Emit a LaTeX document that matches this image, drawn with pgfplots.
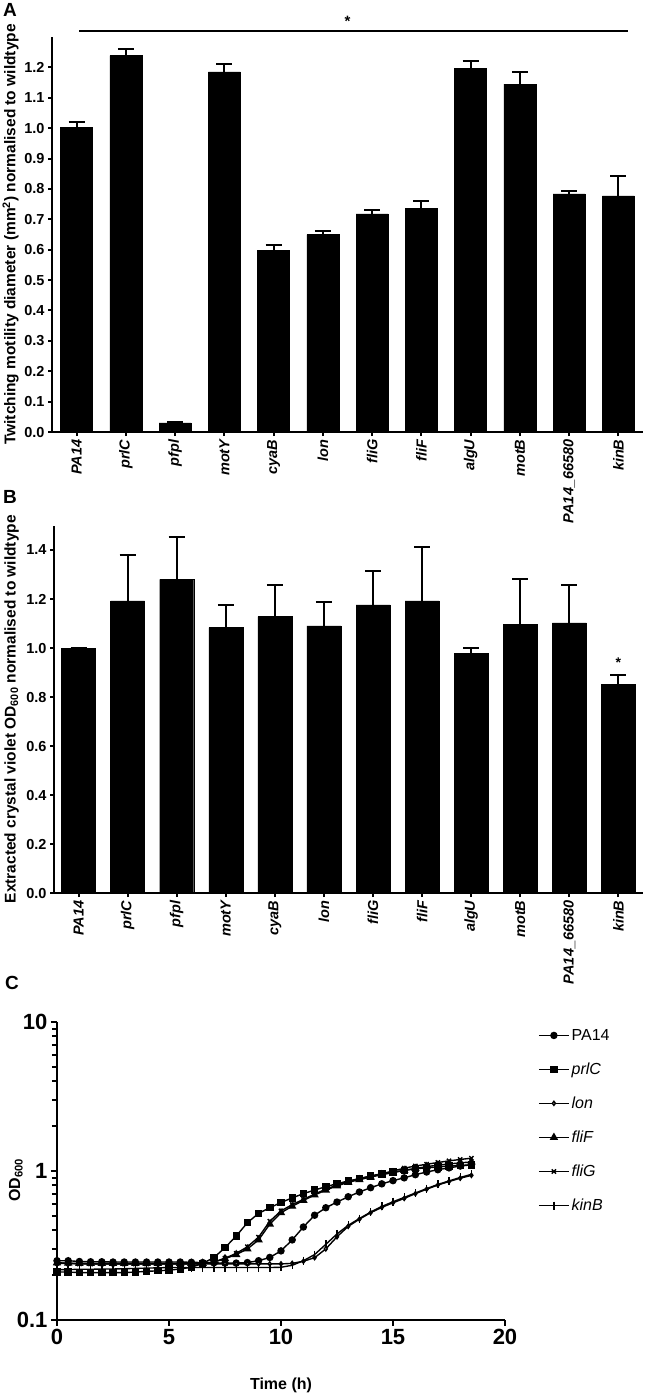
\documentclass[border=0pt]{standalone}
\usepackage{fontspec}
\setmainfont{Liberation Sans}
\usepackage{pgfplots}
\usepackage{pgfplotstable}
\pgfplotsset{compat=1.18}

\pgfplotstableread{
x y e
0 1.003 0.016
1 1.239 0.021
2 0.030 0.003
3 1.185 0.025
4 0.597 0.017
5 0.650 0.013
6 0.718 0.013
7 0.735 0.026
8 1.196 0.024
9 1.145 0.039
10 0.784 0.008
11 0.777 0.067
}\dataA

\pgfplotstableread{
x y e
0 1.000 0.000
1 1.192 0.188
2 1.280 0.174
3 1.083 0.093
4 1.128 0.129
5 1.090 0.099
6 1.176 0.138
7 1.192 0.219
8 0.978 0.024
9 1.097 0.183
10 1.103 0.154
11 0.853 0.037
}\dataB

\pgfplotstableread{
t pa prlc lon flif flig kinb
0 0.250 0.210 0.242 0.242 0.240 0.218
0.5 0.250 0.210 0.240 0.241 0.239 0.218
1 0.247 0.208 0.239 0.240 0.238 0.219
1.5 0.246 0.208 0.238 0.240 0.238 0.219
2 0.246 0.208 0.238 0.240 0.238 0.220
2.5 0.245 0.208 0.238 0.240 0.238 0.220
3 0.245 0.208 0.238 0.240 0.238 0.221
3.5 0.245 0.210 0.238 0.240 0.238 0.222
4 0.245 0.212 0.238 0.240 0.238 0.223
4.5 0.245 0.214 0.238 0.240 0.238 0.224
5 0.245 0.216 0.238 0.240 0.238 0.225
5.5 0.245 0.220 0.238 0.240 0.238 0.225
6 0.244 0.226 0.238 0.240 0.238 0.225
6.5 0.243 0.240 0.238 0.240 0.238 0.225
7 0.242 0.262 0.238 0.245 0.245 0.225
7.5 0.241 0.306 0.238 0.258 0.260 0.225
8 0.241 0.366 0.238 0.275 0.280 0.225
8.5 0.243 0.450 0.238 0.300 0.310 0.225
9 0.250 0.520 0.238 0.345 0.360 0.225
9.5 0.263 0.567 0.238 0.440 0.460 0.225
10 0.291 0.615 0.238 0.525 0.540 0.226
10.5 0.345 0.660 0.240 0.580 0.595 0.233
11 0.421 0.705 0.248 0.635 0.645 0.250
11.5 0.505 0.745 0.262 0.690 0.700 0.275
12 0.567 0.785 0.300 0.745 0.755 0.322
12.5 0.619 0.822 0.362 0.795 0.805 0.378
13 0.672 0.857 0.425 0.840 0.850 0.432
13.5 0.723 0.888 0.475 0.875 0.890 0.480
14 0.773 0.925 0.525 0.910 0.925 0.530
14.5 0.820 0.955 0.570 0.945 0.960 0.578
15 0.862 0.985 0.612 0.975 1.000 0.622
15.5 0.900 1.010 0.655 1.010 1.045 0.665
16 0.945 1.035 0.705 1.040 1.080 0.712
16.5 0.985 1.050 0.755 1.070 1.110 0.762
17 1.020 1.065 0.805 1.095 1.140 0.812
17.5 1.050 1.080 0.850 1.115 1.170 0.858
18 1.080 1.090 0.895 1.135 1.195 0.905
18.5 1.100 1.100 0.935 1.150 1.220 0.950
}\dataC

\pgfplotsset{
  barax/.style={
    scale only axis, axis lines=left, axis line style={-, line width=2pt},
    xmin=-0.5, xmax=11.5, ymin=0, clip=false,
    xtick={0,...,11},
    xticklabels={PA14,prlC,pfpl,motY,cyaB,lon,fliG,fliF,algU,motB,PA14\_66580,kinB},
    x tick label style={rotate=90, anchor=east, font=\bfseries\itshape\fontsize{14.5}{16}\selectfont},
    y tick label style={font=\bfseries\fontsize{14.5}{16}\selectfont},
    /pgf/number format/assume math mode=true,
    yticklabel style={/pgf/number format/.cd, fixed, fixed zerofill, precision=1},
    tick align=outside, major tick length=4pt,
    tick style={line width=2pt, black},
    ylabel style={font=\bfseries\fontsize{15.5}{17}\selectfont, anchor=center},
  },
  barplot/.style={ybar, fill=black, draw=black,
    error bars/.cd, y dir=plus, y explicit,
    error bar style={line width=2pt, black},
    error mark options={rotate=90, mark size=8pt, line width=2pt, black},
    /pgfplots/.cd},
}

\begin{document}
\begin{tikzpicture}
\useasboundingbox (0,0) rectangle (645pt,-1395pt);

\node[font=\bfseries\fontsize{19}{19}\selectfont] at (10pt,-10pt) {A};
\node[font=\bfseries\fontsize{19}{19}\selectfont] at (10pt,-497pt) {B};
\node[font=\bfseries\fontsize{19}{19}\selectfont] at (12pt,-983pt) {C};

% Panel A
\begin{axis}[barax, at={(52pt,-432pt)}, anchor=south west,
  width=591pt, height=395pt, ymax=1.3,
  ytick={0,0.1,...,1.21},
  ylabel={Twitching motility diameter (mm\textsuperscript{2}) normalised to wildtype},
  ylabel style={at={(axis description cs:-0.07,0.5)}},
]
\addplot[bar width=32pt, barplot] table[x=x, y=y, y error=e] {\dataA};
\draw[line width=1.5pt] (axis cs:0.05,1.32) -- (axis cs:11.2,1.32);
\node[font=\bfseries\fontsize{15}{15}\selectfont] at (axis cs:5.5,1.352) {*};
\end{axis}

% Panel B
\begin{axis}[barax, at={(54pt,-893pt)}, anchor=south west,
  width=589pt, height=367.5pt, ymax=1.5,
  ytick={0,0.2,...,1.41},
  ylabel={Extracted crystal violet OD\textsubscript{600} normalised to wildtype},
  ylabel style={at={(axis description cs:-0.072,0.5)}},
]
\addplot[bar width=34pt, barplot] table[x=x, y=y, y error=e] {\dataB};
\node[font=\bfseries\fontsize{14}{14}\selectfont] at (axis cs:11,0.94) {*};
\end{axis}

% Panel C
\begin{axis}[at={(57pt,-1320pt)}, anchor=south west, scale only axis,
  width=448pt, height=298pt,
  xmin=0, xmax=20, ymode=log, ymin=0.1, ymax=10,
  axis lines=left, axis line style={-, line width=2.4pt},
  xtick={0,5,10,15,20}, ytick={0.1,1,10}, yticklabels={0.1,1,10},
  /pgf/number format/assume math mode=true,
  tick label style={font=\bfseries\fontsize{22}{24}\selectfont},
  tick align=outside, major tick length=6pt, minor tick length=5pt,
  tick style={line width=2pt, black},
  xlabel={Time (h)}, ylabel={OD\textsubscript{600}},
  xlabel style={font=\bfseries\fontsize{16}{18}\selectfont, at={(axis description cs:0.5,-0.218)}, anchor=center},
  ylabel style={font=\bfseries\fontsize{16}{18}\selectfont, at={(axis description cs:-0.092,0.47)}, anchor=center},
  legend style={draw=none, fill=none, at={(axis description cs:1.067,0.99)}, anchor=north west,
    font=\fontsize{16}{18}\selectfont, row sep=17pt},
  legend cell align=left,
  legend image code/.code={\draw[mark repeat=2,mark phase=2,#1] plot coordinates {(0pt,0pt) (15pt,0pt) (30pt,0pt)};},
  every axis plot/.append style={black, line width=1.4pt, mark options={solid}},
]
\addplot[mark=*, mark size=3pt] table[x=t, y=pa] {\dataC};
\addlegendentry{PA14}
\addplot[mark=square*, mark size=3pt] table[x=t, y=prlc] {\dataC};
\addlegendentry{\textit{prlC}}
\addplot[mark=diamond*, mark size=2pt, mark options={fill=white}] table[x=t, y=lon] {\dataC};
\addlegendentry{\textit{lon}}
\addplot[mark=triangle*, mark size=3.5pt] table[x=t, y=flif] {\dataC};
\addlegendentry{\textit{fliF}}
\addplot[mark=x, mark size=3pt] table[x=t, y=flig] {\dataC};
\addlegendentry{\textit{fliG}}
\addplot[mark=|, mark size=4pt] table[x=t, y=kinb] {\dataC};
\addlegendentry{\textit{kinB}}
\end{axis}
\end{tikzpicture}
\end{document}
